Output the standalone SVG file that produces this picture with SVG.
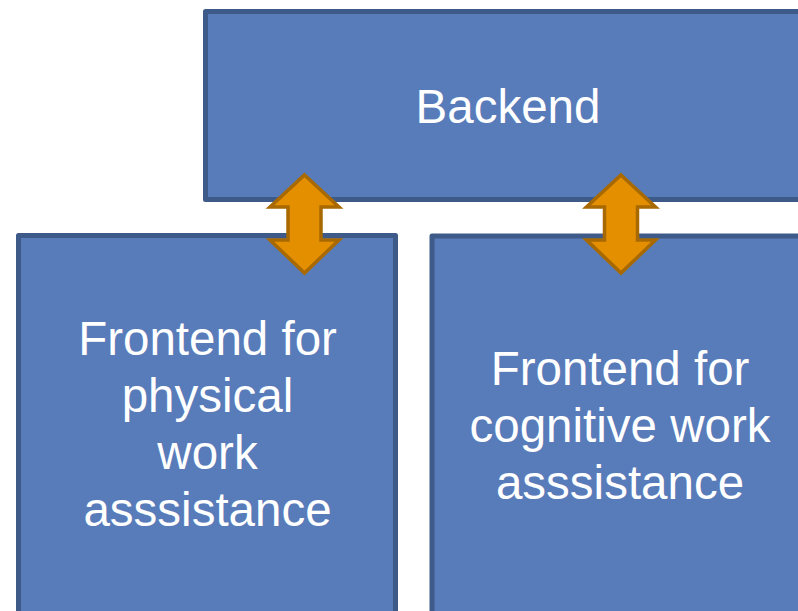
<svg xmlns="http://www.w3.org/2000/svg" width="798" height="611" viewBox="0 0 798 611">
<style>
.box{fill:#587bba;stroke:#3e5a89;stroke-width:5;stroke-linejoin:round}
.lbl{font-family:"Liberation Sans",Arial,sans-serif;font-size:47.5px;fill:#ffffff;text-anchor:middle}
.arr{fill:#e48f00;stroke:#a86a00;stroke-width:3.5;stroke-linejoin:miter}
</style>
<rect width="798" height="611" fill="#ffffff"/>
<g id="backend">
<rect class="box" x="205.5" y="11.5" width="600" height="188"/>
<text class="lbl" x="508" y="123">Backend</text>
</g>
<g id="frontend-physical">
<rect class="box" x="18.5" y="235.5" width="377" height="390"/>
<text class="lbl" x="207.5" y="355">Frontend for</text>
<text class="lbl" x="207.5" y="412">physical</text>
<text class="lbl" x="207.5" y="469">work</text>
<text class="lbl" x="207.5" y="526">asssistance</text>
</g>
<g id="frontend-cognitive">
<rect class="box" x="432" y="236" width="400" height="390"/>
<text class="lbl" x="620" y="385">Frontend for</text>
<text class="lbl" x="620" y="442">cognitive work</text>
<text class="lbl" x="620" y="499">asssistance</text>
</g>
<g id="connectors">
<path class="arr" d="M304.5,175 L339,207 L321,207 L321,240 L339,240 L304.5,273 L270,240 L288,240 L288,207 L270,207 Z"/>
<path class="arr" d="M621,175 L655.5,207 L637.5,207 L637.5,240 L655.5,240 L621,273 L586.5,240 L604.5,240 L604.5,207 L586.5,207 Z"/>
</g>
</svg>
